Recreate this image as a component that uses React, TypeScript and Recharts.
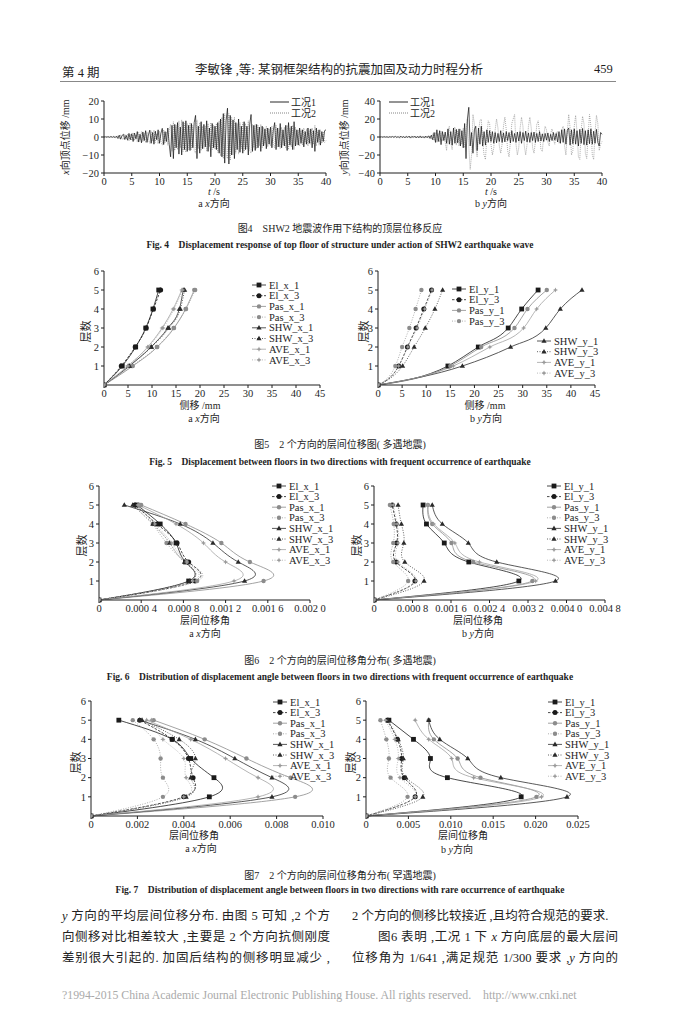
import React from 'react';
import { LineChart, Line, XAxis, YAxis } from 'recharts';

const SERIF = '"Liberation Serif", "Times New Roman", serif';
const MIXED = '"Liberation Serif", "Noto Sans CJK SC", serif';
const INK = '#1e1e1e';

// ---------- Fig.4: top floor displacement under SHW2, one sample every 0.25 s ----------
const DT = 0.25;
const T_TICKS = [0, 5, 10, 15, 20, 25, 30, 35, 40];
const X_TICKS_MM = [-20, -10, 0, 10, 20];
const Y_TICKS_MM = [-40, -20, 0, 20, 40];

const X_CASE1 = [
  0, 0.1, -0.1, 0.2, -0.2, 0.3, -0.2, 0.3, -0.4, 0.5,
  -0.8, 1.0, -1.2, 0.8, 1.5, -1.4, 0.9, -1.8, 2.0, -1.5,
  1.8, -2.5, 2.2, -1.0, 3.0, -2.8, 1.5, -3.2, 2.8, -2.0,
  3.5, -3.0, 1.2, 3.8, -3.5, 2.5, -4.0, 3.2, -1.5, 4.0,
  -3.5, 2.0, 4.8, -4.2, 3.0, -2.5, 5.0, -4.0, -11.0, 6.5,
  -12.0, 7.0, -6.0, 8.0, -9.5, 5.5, -10.0, 8.5, -7.0, 9.0,
  -8.0, 6.5, -7.5, 7.5, -6.0, 8.0, 12.0, -12.0, 6.0, -9.0,
  8.5, -6.5, 7.0, -5.5, 9.0, -8.0, 5.0, -11.0, 7.5, -6.0,
  6.0, -7.0, 8.0, -9.0, 10.0, -11.0, 13.0, -14.5, 9.0, 16.0,
  -15.0, 12.0, -10.0, 9.5, -12.0, 8.0, -7.0, 10.0, -8.5, 6.0,
  -9.0, 8.5, -7.0, 6.0, -10.0, 7.0, 12.5, -8.0, 6.5, -7.5,
  7.0, -6.0, 5.5, -8.0, 6.0, -5.0, 4.5, -6.5, 5.0, -4.0,
  5.5, -6.0, 3.5, 8.0, -7.0, 5.0, -5.5, 7.5, -6.0, 4.0,
  -5.0, 6.5, -7.5, 8.0, -4.5, 6.0, -7.0, 8.5, -5.0, 4.0,
  -4.5, 5.0, -3.5, 4.0, -5.5, 3.0, -4.0, 5.0, -3.5, 4.5,
  -6.0, 3.5, -8.0, 5.0, -3.0, 4.0, -4.5, 3.0, -2.5, 3.5,
  4.0,
];
const X_CASE2 = [
  0, -0.1, 0.1, -0.2, 0.2, -0.3, 0.3, -0.2, 0.4, -0.4,
  0.9, -1.1, 1.3, -0.9, -1.4, 1.6, -1.0, 1.7, -2.1, 1.6,
  -1.9, 2.4, -2.0, 1.2, -2.8, 2.6, -1.7, 3.0, -2.6, 2.2,
  -3.2, 2.8, -1.4, -3.5, 3.4, -2.3, 3.8, -3.0, 1.8, -3.8,
  3.2, -2.2, -4.5, 4.0, -3.2, 2.8, -4.6, 3.8, 7.0, -8.0,
  8.5, -7.5, 6.5, -7.0, 9.0, -6.0, 9.5, -8.0, 7.5, -8.5,
  7.5, -7.0, 8.0, -7.0, 6.5, -7.5, -9.0, 9.5, -6.5, 8.0,
  -7.5, 6.0, -6.5, 6.0, -8.0, 7.5, -5.5, 8.0, -7.0, 6.5,
  -6.5, 7.5, -8.5, 9.0, -10.5, 11.0, -12.0, 13.0, -10.0, -12.0,
  13.0, -13.0, 11.0, -10.0, 11.0, -9.0, 7.5, -9.5, 8.0, -6.5,
  8.0, -8.0, 7.5, -6.5, 9.0, -7.5, -9.0, 7.0, -6.0, 7.0,
  -6.5, 6.5, -5.0, 7.0, -6.0, 5.5, -4.0, 6.0, -5.5, 4.5,
  -5.0, 6.0, -4.0, -6.0, 6.5, -5.5, 5.0, -6.5, 5.5, -4.5,
  5.5, -6.0, 6.5, -7.0, 5.0, -5.5, 6.5, -7.0, 5.5, -4.5,
  4.0, -5.0, 4.0, -4.5, 5.0, -3.5, 4.5, -5.0, 4.0, -4.0,
  5.0, -4.0, 6.5, -5.0, 3.5, -4.5, 4.0, -3.5, 3.0, -3.0,
  -2.0,
];
const Y_CASE1 = [
  0, 0.2, -0.3, 0.4, -0.2, 0.3, -0.5, 0.4, -0.3, 0.6,
  -0.5, 0.8, -0.6, 0.5, -0.9, 1.0, -0.7, 0.6, -1.0, 0.8,
  -0.6, 1.0, -1.2, 0.8, -0.5, 1.1, -1.0, 0.7, -0.9, 1.2,
  -1.0, 0.6, -1.2, 1.0, -0.8, 1.3, -1.5, 2.0, -3.0, 5.0,
  -6.0, 8.0, -5.0, 7.0, -8.5, 6.0, -4.0, 5.5, -7.0, 9.0,
  -8.0, 6.0, -9.0, 10.0, -7.0, 8.5, -6.5, 9.0, -10.0, 7.0,
  -12.0, 15.0, -24.0, 20.0, 33.0, -10.0, 5.0, -18.0, 8.0, 12.0,
  -15.0, 10.0, -8.0, 12.0, -10.0, 6.0, -9.0, 8.0, -6.0, 7.0,
  -5.0, 6.0, -7.0, 5.0, -6.5, 4.0, -5.0, 7.0, -6.0, 4.5,
  -5.5, 6.0, -4.0, 5.0, -6.5, 7.0, -5.0, 4.0, -6.0, 5.5,
  -4.5, 6.0, -7.0, 5.0, -4.0, 6.5, -5.5, 4.5, -6.0, 5.0,
  -4.0, 5.5, -6.0, 4.0, -5.0, 6.0, -4.5, 3.5, -5.0, 4.0,
  -3.5, 4.5, -5.0, 3.0, -4.0, 5.0, -3.5, 4.0, -5.5, 6.0,
  -7.0, 8.0, -6.0, 9.0, -8.0, 7.5, 10.0, -9.0, 8.0, -7.5,
  9.0, -8.0, 7.0, -10.0, 8.5, -7.0, 9.5, -8.5, 7.0, -9.0,
  8.0, -7.5, 9.0, -8.0, 6.5, -7.0, 8.5, -6.0, -10.0, 5.0,
  3.0,
];
const Y_CASE2 = [
  0, -0.2, 0.3, -0.3, 0.2, -0.4, 0.5, -0.3, 0.4, -0.5,
  0.6, -0.7, 0.5, -0.6, 0.8, -0.9, 0.6, -0.5, 0.9, -0.7,
  0.8, -1.0, 1.1, -0.7, 0.6, -1.0, 1.1, -0.8, 1.0, -1.1,
  0.9, -0.7, 1.1, -0.9, 1.0, -1.2, 1.4, -2.5, 3.5, -4.0,
  5.0, -6.0, 4.0, -5.5, 6.5, -4.5, 3.0, -6.0, -15.0, 8.0,
  12.0, -6.0, -14.0, 8.0, 11.0, -9.0, 7.0, -10.0, 9.0, -8.0,
  10.0, -12.0, 8.0, 20.0, -10.0, -36.0, -20.0, 25.0, 15.0, -10.0,
  -22.0, 5.0, 18.0, 20.0, -5.0, -20.0, -25.0, 0.0, 18.0, 15.0,
  -8.0, -20.0, -12.0, 8.0, 20.0, 10.0, -10.0, -18.0, -8.0, 12.0,
  22.0, 8.0, -15.0, -22.0, -5.0, 15.0, 20.0, 25.0, -8.0, -20.0,
  -12.0, 10.0, 22.0, 12.0, -10.0, -20.0, -8.0, 12.0, 22.0, 10.0,
  -12.0, -18.0, -5.0, 14.0, 18.0, 4.0, -14.0, -16.0, 2.0, 12.0,
  8.0, -6.0, -10.0, 4.0, 9.0, -3.0, -8.0, 5.0, 6.0, -7.0,
  -4.0, 8.0, 12.0, -10.0, -20.0, 5.0, 25.0, 10.0, -20.0, -15.0,
  12.0, 24.0, 5.0, -22.0, -25.0, 8.0, 23.0, 15.0, -18.0, -24.0,
  2.0, 25.0, 12.0, -20.0, -25.0, 5.0, 24.0, 15.0, -15.0, -8.0,
  -5.0,
];

// ---------- Fig.5-7: values per floor 0..5 ----------
const FLOORS = [0, 1, 2, 3, 4, 5];
const FLOOR_TICKS = [1, 2, 3, 4, 5, 6];

// Fig.5 storey drift (mm), frequent earthquake
const F5_TICKS = [0, 5, 10, 15, 20, 25, 30, 35, 40, 45];
const F5_LABELS = ['0', '5', '10', '15', '20', '25', '30', '35', '40', '45'];
const F5_EL_X1 = [0, 3.8, 6.6, 8.7, 10.2, 11.4];
const F5_EL_X3 = [0, 3.6, 6.5, 8.8, 10.3, 11.8];
const F5_PAS_X1 = [0, 6.0, 11.1, 14.6, 17.0, 18.8];
const F5_PAS_X3 = [0, 5.8, 11.0, 14.5, 17.1, 19.0];
const F5_SHW_X1 = [0, 5.3, 9.8, 13.3, 15.7, 16.5];
const F5_SHW_X3 = [0, 5.2, 9.9, 13.5, 15.9, 16.8];
const F5_AVE_X1 = [0, 5.0, 9.1, 12.1, 14.4, 16.2];
const F5_AVE_X3 = [0, 4.9, 9.2, 12.3, 14.6, 16.4];
const F5_EL_Y1 = [0, 14.5, 20.8, 27.0, 29.8, 33.2];
const F5_EL_Y3 = [0, 4.3, 6.1, 7.9, 9.5, 11.1];
const F5_PAS_Y1 = [0, 15.0, 21.4, 28.3, 31.0, 35.0];
const F5_PAS_Y3 = [0, 3.6, 5.0, 6.5, 7.8, 9.0];
const F5_SHW_Y1 = [0, 17.5, 27.5, 34.8, 37.8, 42.3];
const F5_SHW_Y3 = [0, 5.1, 7.5, 9.8, 11.8, 13.4];
const F5_AVE_Y1 = [0, 15.6, 23.2, 30.2, 32.9, 36.8];
const F5_AVE_Y3 = [0, 4.3, 6.2, 8.1, 9.7, 11.2];

// Fig.6 inter-storey drift angle, frequent earthquake
const F6X_TICKS = [0, 0.0004, 0.0008, 0.0012, 0.0016, 0.002];
const F6X_LABELS = ['0', '0.000 4', '0.000 8', '0.001 2', '0.001 6', '0.002 0'];
const F6Y_TICKS = [0, 0.0008, 0.0016, 0.0024, 0.0032, 0.004, 0.0048];
const F6Y_LABELS = ['0', '0.000 8', '0.001 6', '0.002 4', '0.003 2', '0.004 0', '0.004 8'];
const F6_EL_X1 = [0, 0.00085, 0.00082, 0.00073, 0.00058, 0.00036];
const F6_EL_X3 = [0, 0.00091, 0.00085, 0.00074, 0.00055, 0.00034];
const F6_PAS_X1 = [0, 0.00156, 0.00143, 0.00116, 0.00082, 0.0004];
const F6_PAS_X3 = [0, 0.00093, 0.00083, 0.00064, 0.00051, 0.00039];
const F6_SHW_X1 = [0, 0.00138, 0.00132, 0.00108, 0.00077, 0.00024];
const F6_SHW_X3 = [0, 0.00086, 0.00081, 0.00067, 0.00051, 0.00032];
const F6_AVE_X1 = [0, 0.00128, 0.0012, 0.00099, 0.00073, 0.00037];
const F6_AVE_X3 = [0, 0.00089, 0.00083, 0.00069, 0.00053, 0.00037];
const F6_EL_Y1 = [0, 0.00301, 0.00197, 0.00146, 0.00109, 0.00102];
const F6_EL_Y3 = [0, 0.00085, 0.00046, 0.00047, 0.00046, 0.00038];
const F6_PAS_Y1 = [0, 0.00329, 0.00206, 0.00161, 0.00121, 0.00112];
const F6_PAS_Y3 = [0, 0.00071, 0.0004, 0.0004, 0.00041, 0.00033];
const F6_SHW_Y1 = [0, 0.00377, 0.00255, 0.00196, 0.00142, 0.00121];
const F6_SHW_Y3 = [0, 0.00104, 0.00064, 0.00062, 0.00057, 0.0005];
const F6_AVE_Y1 = [0, 0.00336, 0.00219, 0.00168, 0.00124, 0.00112];
const F6_AVE_Y3 = [0, 0.00087, 0.0005, 0.0005, 0.00048, 0.0004];

// Fig.7 inter-storey drift angle, rare earthquake
const F7X_TICKS = [0, 0.002, 0.004, 0.006, 0.008, 0.01];
const F7X_LABELS = ['0', '0.002', '0.004', '0.006', '0.008', '0.010'];
const F7Y_TICKS = [0, 0.005, 0.01, 0.015, 0.02, 0.025];
const F7Y_LABELS = ['0', '0.005', '0.010', '0.015', '0.020', '0.025'];
const F7_EL_X1 = [0, 0.0051, 0.0053, 0.0043, 0.0035, 0.0012];
const F7_EL_X3 = [0, 0.004, 0.0044, 0.0042, 0.0035, 0.0021];
const F7_PAS_X1 = [0, 0.0088, 0.0086, 0.0067, 0.0049, 0.0027];
const F7_PAS_X3 = [0, 0.0031, 0.0031, 0.003, 0.0027, 0.0018];
const F7_SHW_X1 = [0, 0.0078, 0.0078, 0.0062, 0.0045, 0.0021];
const F7_SHW_X3 = [0, 0.0041, 0.0043, 0.0045, 0.0038, 0.0022];
const F7_AVE_X1 = [0, 0.0072, 0.0072, 0.0058, 0.0043, 0.0024];
const F7_AVE_X3 = [0, 0.004, 0.0041, 0.004, 0.0031, 0.0026];
const F7_EL_Y1 = [0, 0.0183, 0.0096, 0.0076, 0.0056, 0.0027];
const F7_EL_Y3 = [0, 0.0058, 0.0045, 0.0042, 0.0037, 0.0025];
const F7_PAS_Y1 = [0, 0.0201, 0.0135, 0.0108, 0.008, 0.0074];
const F7_PAS_Y3 = [0, 0.0049, 0.0029, 0.0027, 0.0024, 0.0017];
const F7_SHW_Y1 = [0, 0.0237, 0.0159, 0.012, 0.0087, 0.0074];
const F7_SHW_Y3 = [0, 0.0067, 0.0047, 0.0044, 0.0038, 0.0026];
const F7_AVE_Y1 = [0, 0.0207, 0.0127, 0.0101, 0.0074, 0.0058];
const F7_AVE_Y3 = [0, 0.0058, 0.004, 0.0038, 0.0034, 0.0023];

type Row = [string, string, number[]];

const series = (d: string, el1: number[], el3: number[], pas1: number[], pas3: number[],
  shw1: number[], shw3: number[], ave1: number[], ave3: number[]): Row[] => [
  [`El_${d}_1`, 'El1', el1],
  [`El_${d}_3`, 'El3', el3],
  [`Pas_${d}_1`, 'Pas1', pas1],
  [`Pas_${d}_3`, 'Pas3', pas3],
  [`SHW_${d}_1`, 'SHW1', shw1],
  [`SHW_${d}_3`, 'SHW3', shw3],
  [`AVE_${d}_1`, 'AVE1', ave1],
  [`AVE_${d}_3`, 'AVE3', ave3],
];

const F5_X = series('x', F5_EL_X1, F5_EL_X3, F5_PAS_X1, F5_PAS_X3, F5_SHW_X1, F5_SHW_X3, F5_AVE_X1, F5_AVE_X3);
const F5_Y = series('y', F5_EL_Y1, F5_EL_Y3, F5_PAS_Y1, F5_PAS_Y3, F5_SHW_Y1, F5_SHW_Y3, F5_AVE_Y1, F5_AVE_Y3);
const F6_X = series('x', F6_EL_X1, F6_EL_X3, F6_PAS_X1, F6_PAS_X3, F6_SHW_X1, F6_SHW_X3, F6_AVE_X1, F6_AVE_X3);
const F6_Y = series('y', F6_EL_Y1, F6_EL_Y3, F6_PAS_Y1, F6_PAS_Y3, F6_SHW_Y1, F6_SHW_Y3, F6_AVE_Y1, F6_AVE_Y3);
const F7_X = series('x', F7_EL_X1, F7_EL_X3, F7_PAS_X1, F7_PAS_X3, F7_SHW_X1, F7_SHW_X3, F7_AVE_X1, F7_AVE_X3);
const F7_Y = series('y', F7_EL_Y1, F7_EL_Y3, F7_PAS_Y1, F7_PAS_Y3, F7_SHW_Y1, F7_SHW_Y3, F7_AVE_Y1, F7_AVE_Y3);

const LINE_STYLE: Record<string, { stroke: string; dash?: string }> = {
  El1: { stroke: '#1a1a1a' },
  El3: { stroke: '#1a1a1a', dash: '2.5 1.5' },
  Pas1: { stroke: '#8c8c8c' },
  Pas3: { stroke: '#9a9a9a', dash: '1 1.5' },
  SHW1: { stroke: '#2e2e2e' },
  SHW3: { stroke: '#3a3a3a', dash: '1 1.5' },
  AVE1: { stroke: '#a2a2a2' },
  AVE3: { stroke: '#aaaaaa', dash: '1 1.5' },
};

function Marker({ m, cx, cy }: { m: string; cx: number; cy: number }) {
  if (cx == null || cy == null) return null;
  if (m === 'El1') return <rect x={cx - 2.4} y={cy - 2.4} width={4.8} height={4.8} fill="#1a1a1a" />;
  if (m === 'El3') return <circle cx={cx} cy={cy} r={2.5} fill="#1a1a1a" />;
  if (m.startsWith('Pas')) return <circle cx={cx} cy={cy} r={2.2} fill="#8c8c8c" />;
  if (m.startsWith('SHW'))
    return <path d={`M${cx},${cy - 2.8}L${cx + 2.6},${cy + 1.8}L${cx - 2.6},${cy + 1.8}Z`} fill="#2a2a2a" />;
  const s = 2.6;
  const k = 0.8;
  return (
    <path
      d={`M${cx},${cy - s}L${cx + k},${cy - k}L${cx + s},${cy}L${cx + k},${cy + k}L${cx},${cy + s}L${cx - k},${cy + k}L${cx - s},${cy}L${cx - k},${cy - k}Z`}
      fill="#9a9a9a"
    />
  );
}

const fmtSigned = (v: number) => (v < 0 ? `−${Math.abs(v)}` : `${v}`);

function TimeChart({ left, top, w, h, lim, yTicks, c1, c2 }: {
  left: number; top: number; w: number; h: number; lim: number; yTicks: number[]; c1: number[]; c2: number[];
}) {
  const data = c1.map((a, i) => ({ t: i * DT, a, b: c2[i] }));
  const padL = 30, padT = 5, padR = 14, padB = 16;
  return (
    <div style={{ position: 'absolute', left: left - padL, top: top - padT }}>
      <LineChart width={w + padL + padR} height={h + padT + padB} data={data}
        margin={{ top: padT, right: padR, left: 0, bottom: 0 }} style={{ fontFamily: SERIF }}>
        <XAxis type="number" dataKey="t" domain={[0, 40]} ticks={T_TICKS} interval={0} height={padB}
          tick={{ fontSize: 10.5, fill: INK }} tickSize={3} stroke={INK} />
        <YAxis type="number" domain={[-lim, lim]} ticks={yTicks} interval={0} width={padL}
          tickFormatter={fmtSigned} tick={{ fontSize: 10.5, fill: INK }} tickSize={3} stroke={INK} />
        <Line dataKey="b" type="linear" stroke="#8a8a8a" strokeWidth={0.7} strokeDasharray="1 1"
          dot={false} activeDot={false} isAnimationActive={false} />
        <Line dataKey="a" type="linear" stroke="#111" strokeWidth={0.7}
          dot={false} activeDot={false} isAnimationActive={false} />
      </LineChart>
    </div>
  );
}

function FloorChart({ left, top, w, h, ticks, labels, rows, curve }: {
  left: number; top: number; w: number; h: number; ticks: number[]; labels: string[]; rows: Row[]; curve: 'natural' | 'monotone';
}) {
  const padL = 30, padT = 6, padR = 22, padB = 18;
  const max = ticks[ticks.length - 1];
  return (
    <div style={{ position: 'absolute', left: left - padL, top: top - padT }}>
      <LineChart width={w + padL + padR} height={h + padT + padB}
        margin={{ top: padT, right: padR, left: 0, bottom: 0 }} style={{ fontFamily: SERIF }}>
        <XAxis type="number" dataKey="v" domain={[0, max]} ticks={ticks} interval={0} height={padB}
          tickFormatter={(v: number) => labels[ticks.indexOf(v)] ?? ''} allowDataOverflow
          tick={{ fontSize: 10.5, fill: INK }} tickSize={3} stroke={INK} />
        <YAxis type="number" domain={[0, 6]} ticks={FLOOR_TICKS} interval={0} width={padL}
          tick={{ fontSize: 10.5, fill: INK }} tickSize={3} stroke={INK} />
        {rows.map(([name, m, vals]) => (
          <Line key={name} data={FLOORS.map((f, i) => ({ f, v: vals[i] }))} dataKey="f" type={curve}
            stroke={LINE_STYLE[m].stroke} strokeDasharray={LINE_STYLE[m].dash} strokeWidth={0.8}
            dot={(p: any) => <Marker key={`${name}-${p.index}`} m={m} cx={p.cx} cy={p.cy} />}
            activeDot={false} isAnimationActive={false} />
        ))}
      </LineChart>
    </div>
  );
}

function Key({ x, y, gap, rows }: { x: number; y: number; gap: number; rows: Row[] }) {
  return (
    <svg style={{ position: 'absolute', left: x, top: y - 6, overflow: 'visible' }} width={80} height={gap * rows.length + 6}>
      {rows.map(([name, m], i) => {
        const cy = 6 + i * gap;
        const st = LINE_STYLE[m];
        return (
          <g key={name}>
            <line x1={0} x2={14} y1={cy} y2={cy} stroke={st.stroke} strokeWidth={0.8} strokeDasharray={st.dash} />
            <Marker m={m} cx={7} cy={cy} />
            <text x={17} y={cy + 3.6} fontSize={10.5} fontFamily={SERIF} fill={INK}>{name}</text>
          </g>
        );
      })}
    </svg>
  );
}

function CaseKey({ x, y }: { x: number; y: number }) {
  return (
    <svg style={{ position: 'absolute', left: x, top: y - 6, overflow: 'visible' }} width={50} height={24}>
      <line x1={0} x2={19} y1={6} y2={6} stroke="#111" strokeWidth={0.9} />
      <line x1={0} x2={19} y1={17} y2={17} stroke="#777" strokeWidth={0.9} strokeDasharray="1 1" />
      <text x={21} y={9.5} fontSize={10} fontFamily={MIXED} fill={INK}>工况1</text>
      <text x={21} y={20.5} fontSize={10} fontFamily={MIXED} fill={INK}>工况2</text>
    </svg>
  );
}

function Txt({ cx, cy, size = 10, bold = false, children, w = 500 }: {
  cx: number; cy: number; size?: number; bold?: boolean; children: React.ReactNode; w?: number;
}) {
  return (
    <div style={{
      position: 'absolute', left: cx - w / 2, top: cy - size / 2, width: w, textAlign: 'center',
      fontSize: size, lineHeight: `${size}px`, fontFamily: MIXED, fontWeight: bold ? 700 : 400,
      color: INK, whiteSpace: 'nowrap',
    }}>{children}</div>
  );
}

function VTxt({ cx, cy, size = 10, children }: { cx: number; cy: number; size?: number; children: React.ReactNode }) {
  return (
    <div style={{
      position: 'absolute', left: cx - 60, top: cy - size / 2, width: 120, textAlign: 'center',
      fontSize: size, lineHeight: `${size}px`, fontFamily: MIXED, color: INK, whiteSpace: 'nowrap',
      transform: 'rotate(-90deg)',
    }}>{children}</div>
  );
}

function Body({ left, cy, width, children, justify = true }: {
  left: number; cy: number; width: number; children: React.ReactNode; justify?: boolean;
}) {
  return (
    <div style={{
      position: 'absolute', left, top: cy - 8, width, fontSize: 12.5, lineHeight: '16px',
      fontFamily: MIXED, color: '#222', whiteSpace: 'nowrap',
      textAlign: justify ? 'justify' : 'left', textAlignLast: justify ? 'justify' : 'left',
    }}>{children}</div>
  );
}

const I = ({ children }: { children: React.ReactNode }) => <i style={{ fontFamily: SERIF }}>{children}</i>;

export default function App() {
  return (
    <div style={{ position: 'absolute', left: 0, top: 0, width: 680, height: 1024, background: '#fff', overflow: 'hidden' }}>
      {/* running header */}
      <div style={{ position: 'absolute', left: 62, top: 62, fontSize: 12.5, fontFamily: MIXED, color: INK }}>第 4 期</div>
      <Txt cx={339} cy={70} size={12.5}>李敏锋 ,等: 某钢框架结构的抗震加固及动力时程分析</Txt>
      <div style={{ position: 'absolute', left: 594, top: 62, fontSize: 12.5, fontFamily: SERIF, color: INK }}>459</div>
      <div style={{ position: 'absolute', left: 60, top: 81, width: 556, height: 1, background: '#888' }} />

      {/* Fig.4 */}
      <TimeChart left={104} top={101} w={222} h={72} lim={20} yTicks={X_TICKS_MM} c1={X_CASE1} c2={X_CASE2} />
      <TimeChart left={380} top={101} w={222} h={72} lim={40} yTicks={Y_TICKS_MM} c1={Y_CASE1} c2={Y_CASE2} />
      <CaseKey x={270} y={102} />
      <CaseKey x={389} y={102} />
      <VTxt cx={66} cy={137}><I>x</I>向顶点位移 /mm</VTxt>
      <VTxt cx={345} cy={137}><I>y</I>向顶点位移 /mm</VTxt>
      <Txt cx={214} cy={192}><I>t</I> /s</Txt>
      <Txt cx={214} cy={204}>a <I>x</I>方向</Txt>
      <Txt cx={491} cy={192}><I>t</I> /s</Txt>
      <Txt cx={491} cy={204}>b <I>y</I>方向</Txt>
      <Txt cx={340} cy={229}>图4　SHW2 地震波作用下结构的顶层位移反应</Txt>
      <Txt cx={340} cy={246} size={9.5} bold>Fig. 4　Displacement response of top floor of structure under action of SHW2 earthquake wave</Txt>

      {/* Fig.5 */}
      <FloorChart left={104} top={271} w={216} h={114} ticks={F5_TICKS} labels={F5_LABELS} rows={F5_X} curve="monotone" />
      <FloorChart left={378} top={271} w={217} h={114} ticks={F5_TICKS} labels={F5_LABELS} rows={F5_Y} curve="monotone" />
      <Key x={252} y={285} gap={10.7} rows={F5_X} />
      <Key x={452} y={289} gap={10.7} rows={F5_Y.slice(0, 4)} />
      <Key x={537} y={341} gap={10.7} rows={F5_Y.slice(4)} />
      <VTxt cx={86} cy={331} size={11}>层数</VTxt>
      <VTxt cx={364} cy={331} size={11}>层数</VTxt>
      <Txt cx={200} cy={406}>侧移 /mm</Txt>
      <Txt cx={204} cy={419}>a <I>x</I>方向</Txt>
      <Txt cx={485} cy={406}>侧移 /mm</Txt>
      <Txt cx={486} cy={419}>b <I>y</I>方向</Txt>
      <Txt cx={340} cy={445}>图5　2 个方向的层间位移图( 多遇地震)</Txt>
      <Txt cx={340} cy={463} size={9.5} bold>Fig. 5　Displacement between floors in two directions with frequent occurrence of earthquake</Txt>

      {/* Fig.6 */}
      <FloorChart left={99} top={486} w={211} h={114} ticks={F6X_TICKS} labels={F6X_LABELS} rows={F6_X} curve="natural" />
      <FloorChart left={374} top={486} w={231} h={114} ticks={F6Y_TICKS} labels={F6Y_LABELS} rows={F6_Y} curve="natural" />
      <Key x={272} y={486} gap={10.6} rows={F6_X} />
      <Key x={547} y={486} gap={10.6} rows={F6_Y} />
      <VTxt cx={82} cy={545} size={11}>层数</VTxt>
      <VTxt cx={357} cy={545} size={11}>层数</VTxt>
      <Txt cx={205} cy={621}>层间位移角</Txt>
      <Txt cx={205} cy={634}>a <I>x</I>方向</Txt>
      <Txt cx={478} cy={621}>层间位移角</Txt>
      <Txt cx={478} cy={634}>b <I>y</I>方向</Txt>
      <Txt cx={340} cy={661}>图6　2 个方向的层间位移角分布( 多遇地震)</Txt>
      <Txt cx={340} cy={678} size={9.5} bold>Fig. 6　Distribution of displacement angle between floors in two directions with frequent occurrence of earthquake</Txt>

      {/* Fig.7 */}
      <FloorChart left={91} top={701} w={232} h={115} ticks={F7X_TICKS} labels={F7X_LABELS} rows={F7_X} curve="natural" />
      <FloorChart left={366} top={701} w={212} h={115} ticks={F7Y_TICKS} labels={F7Y_LABELS} rows={F7_Y} curve="natural" />
      <Key x={273} y={702} gap={10.6} rows={F7_X} />
      <Key x={548} y={702} gap={10.6} rows={F7_Y} />
      <VTxt cx={76} cy={762} size={11}>层数</VTxt>
      <VTxt cx={351} cy={762} size={11}>层数</VTxt>
      <Txt cx={194} cy={836}>层间位移角</Txt>
      <Txt cx={201} cy={849}>a <I>x</I>方向</Txt>
      <Txt cx={463} cy={836}>层间位移角</Txt>
      <Txt cx={457} cy={850}>b <I>y</I>方向</Txt>
      <Txt cx={340} cy={876}>图7　2 个方向的层间位移角分布( 罕遇地震)</Txt>
      <Txt cx={340} cy={891} size={9.5} bold>Fig. 7　Distribution of displacement angle between floors in two directions with rare occurrence of earthquake</Txt>

      {/* body text */}
      <Body left={62} cy={916} width={268}><I>y</I> 方向的平均层间位移分布. 由图 5 可知 ,2 个方</Body>
      <Body left={62} cy={937} width={268}>向侧移对比相差较大 ,主要是 2 个方向抗侧刚度</Body>
      <Body left={62} cy={958} width={268}>差别很大引起的. 加固后结构的侧移明显减少 ,</Body>
      <Body left={352} cy={916} width={266} justify={false}>2 个方向的侧移比较接近 ,且均符合规范的要求.</Body>
      <Body left={378} cy={937} width={240}>图6 表明 ,工况 1 下 <I>x</I> 方向底层的最大层间</Body>
      <Body left={352} cy={958} width={266}>位移角为 1/641 ,满足规范 1/300 要求 ,<I>y</I> 方向的</Body>

      {/* footer */}
      <div style={{ position: 'absolute', left: 62, top: 988, fontSize: 11.8, fontFamily: SERIF, color: '#aaa', whiteSpace: 'nowrap' }}>
        ?1994-2015 China Academic Journal Electronic Publishing House. All rights reserved.&nbsp;&nbsp;&nbsp;&nbsp;http://www.cnki.net
      </div>
    </div>
  );
}
